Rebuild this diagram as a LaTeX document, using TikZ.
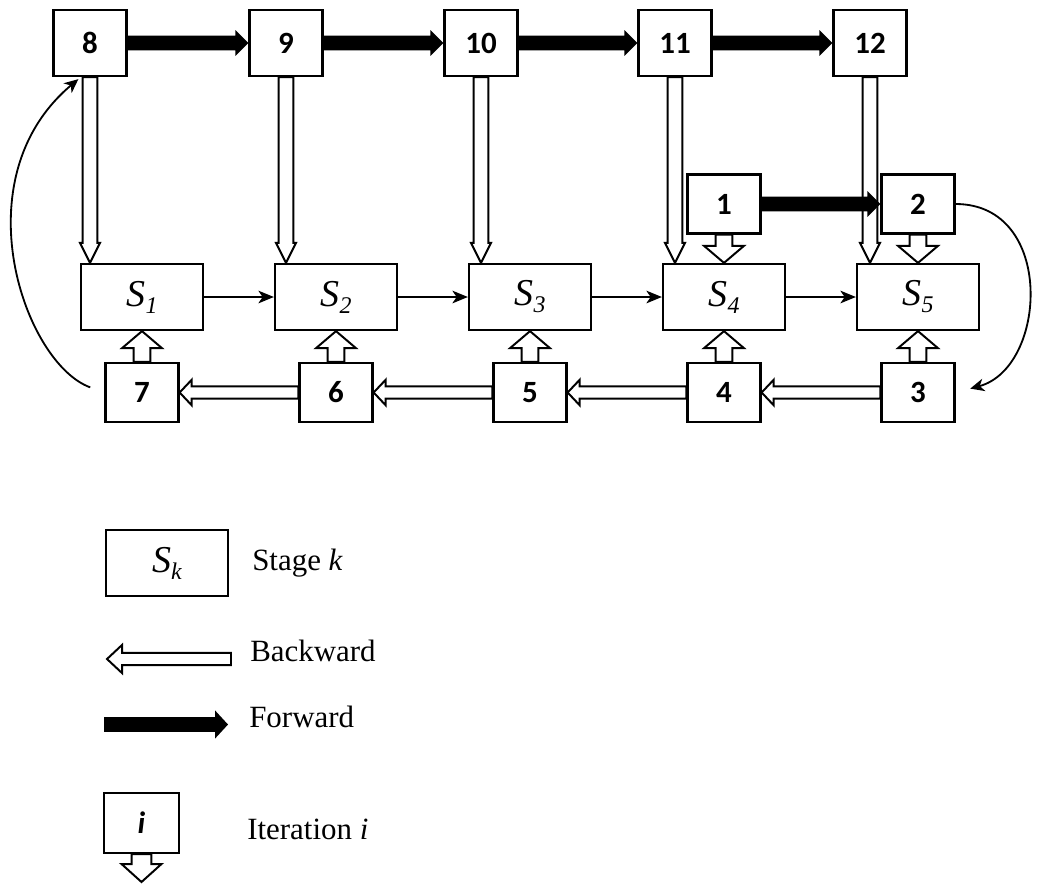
\documentclass[tikz,border=0pt]{standalone}
\usepackage{fontspec}
\setmainfont{Liberation Serif}
\newfontfamily\numfont{Carlito}
\usepackage{tikz}
\usetikzlibrary{positioning, arrows.meta, calc}

% block arrow: style, from, to, half stem, half head, head length
\newcommand{\blockarrow}[6]{%
  \path[#1] let \p1=#2, \p2=#3, \p3=($(\p2)!#6!(\p1)$) in
    ($(\p1)!#4!90:(\p2)$) -- ($(\p3)!#4!90:(\p2)$) -- ($(\p3)!#5!90:(\p2)$)
    -- (\p2) -- ($(\p3)!#5!-90:(\p2)$) -- ($(\p3)!#4!-90:(\p2)$)
    -- ($(\p1)!#4!-90:(\p2)$) -- cycle;}
\newcommand{\fwdarr}[2]{\blockarrow{fwdfill}{#1}{#2}{5.3pt}{9.2pt}{9.2pt}}
\newcommand{\backarr}[2]{\blockarrow{hollow}{#1}{#2}{4.3pt}{9pt}{8.5pt}}
\newcommand{\downarr}[2]{\blockarrow{hollow}{#1}{#2}{5.3pt}{7.1pt}{14.2pt}}
\newcommand{\iterarr}[2]{\blockarrow{hollow}{#1}{#2}{6pt}{14.2pt}{12.1pt}}
\newcommand{\stg}[1]{\textit{S}\raisebox{-5pt}{\fontsize{17}{17}\selectfont\itshape #1}}

\tikzset{
  hollow/.style={draw, fill=white, line width=1.4pt, line join=miter},
  fwdfill/.style={fill=black},
}

\begin{document}
\begin{tikzpicture}[x=0.025cm, y=-0.025cm,
    stage/.style={draw, line width=1.6pt, minimum width=3.05cm, minimum height=1.65cm, inner sep=0pt, font=\fontsize{27}{30}\selectfont},
    iter/.style={draw, line width=1.6pt, minimum width=1.825cm, minimum height=1.475cm, inner sep=0pt, font=\numfont\bfseries\fontsize{22}{24}\selectfont},
    link/.style={line width=1.2pt, -{Stealth[length=11pt, width=9pt, inset=3pt]}},
    curve/.style={line width=1.3pt, -{Stealth[length=10pt, width=9pt, inset=3pt]}},
    lbl/.style={anchor=west, inner sep=0pt, font=\fontsize{22}{24}\selectfont},
]
\useasboundingbox (0,0) rectangle (1038,884);

% stages
\foreach \k/\x in {1/142, 2/336, 3/530, 4/724, 5/918}
  \node[stage] (s\k) at (\x,297) {\stg{\k}};

% iterations
\foreach \n/\x in {8/90, 9/286, 10/481, 11/675, 12/870}
  \node[iter, minimum height=1.65cm] (t\n) at (\x,43) {\n};
\foreach \n/\x in {7/142, 6/336, 5/530, 4/724, 3/918}
  \node[iter] (b\n) at (\x,392.5) {\n};
\node[iter] (i1) at (724,204) {1};
\node[iter] (i2) at (918,204) {2};

\foreach \a/\b in {1/2, 2/3, 3/4, 4/5}
  \draw[link] (s\a) -- (s\b);

\foreach \a/\b in {8/9, 9/10, 10/11, 11/12}
  \fwdarr{(t\a.east)}{(t\b.west)};

\foreach \t/\s in {8/1, 9/2, 10/3, 11/4, 12/5}
  \downarr{(t\t.south)}{(t\t.south |- s\s.north)};
\fwdarr{(i1.east)}{(i2.west)};

\iterarr{(i1.south)}{(s4.north)};
\iterarr{(i2.south)}{(s5.north)};
\foreach \b/\s in {7/1, 6/2, 5/3, 4/4, 3/5}
  \iterarr{(b\b.north)}{(s\s.south)};

\foreach \a/\b in {3/4, 4/5, 5/6, 6/7}
  \backarr{(b\a.west)}{(b\b.east)};

\draw[curve, shorten >=10.7pt] (i2.east) to[out=0, in=15, out distance=2.5cm, in distance=2.375cm] (b3.east);
\coordinate (c8) at ($(t8.south west)+(26,2)$);
\draw[curve, shorten <=10.7pt] (b7.west) to[out=160, in=220, out distance=2.125cm, in distance=3.875cm] (c8);

% legend
\node[stage] (legS) at (167,563) {\stg{k}};
\node[lbl] (legStage) at (252,563) {Stage \textit{k}};

\coordinate (bkA) at (231,659);
\coordinate (bkB) at (107,659);
\blockarrow{hollow}{(bkA)}{(bkB)}{4.3pt}{10pt}{10.7pt};
\node[lbl] (legBack) at (250,651) {Backward};

\coordinate (fwA) at (104,724.5);
\coordinate (fwB) at (228,724.5);
\blockarrow{fwdfill}{(fwA)}{(fwB)}{5.3pt}{10pt}{9.2pt};
\node[lbl] (legFwd) at (249,717) {Forward};

\node[iter, minimum width=1.875cm, minimum height=1.5cm, font=\numfont\bfseries\itshape\fontsize{22}{24}\selectfont] (legI) at (141.5,823) {i};
\coordinate (legTip) at (141.5,882);
\blockarrow{hollow}{(legI.south)}{(legTip)}{7pt}{14.2pt}{12.8pt};
\node[lbl] (legIter) at (247,829) {Iteration \textit{i}};
\end{tikzpicture}
\end{document}
